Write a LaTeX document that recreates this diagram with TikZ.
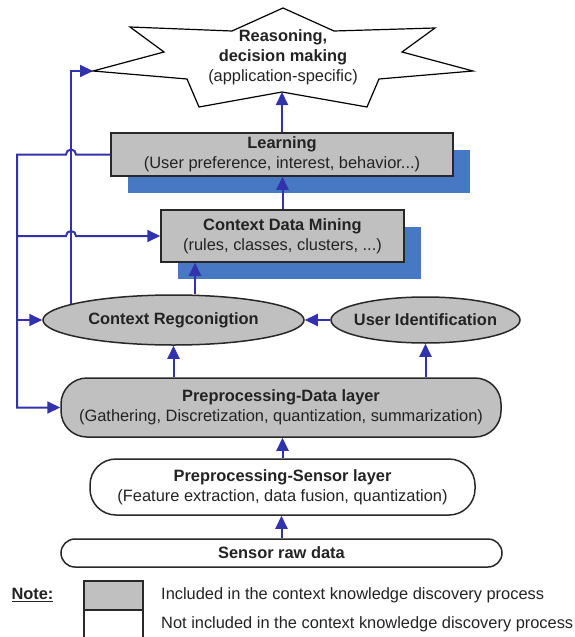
\documentclass[tikz,border=0pt]{standalone}
\usepackage{fontspec}
\setmainfont{Liberation Sans}
\usetikzlibrary{arrows.meta,shapes.geometric,shadows,backgrounds,calc}
\definecolor{arrblue}{RGB}{50,50,170}
\definecolor{boxgray}{RGB}{192,192,192}
\definecolor{sblue}{RGB}{70,120,195}
\definecolor{txt}{RGB}{35,35,35}
\definecolor{edgec}{RGB}{40,40,40}
\tikzset{
  base/.style={draw=edgec, line width=1.5pt, text=txt, align=center, inner sep=0pt,
    font=\fontsize{16.4}{20}\selectfont},
  graybox/.style={base, fill=boxgray, rectangle},
  shadowed/.style={general shadow={shadow xshift=17pt, shadow yshift=-17pt, fill=sblue}},
  grayell/.style={base, fill=boxgray, ellipse, inner xsep=-10pt},
  arr/.style={draw=arrblue, line width=2pt, -{Triangle[length=13pt,width=12pt]}},
  link/.style={draw=arrblue, line width=2pt},
  plain/.style={text=txt, inner sep=0pt, font=\fontsize{16.4}{20}\selectfont},
}
\begin{document}
\begin{tikzpicture}[x=1pt,y=-1pt]
\useasboundingbox (0,0) rectangle (574,637);

% star
\draw[line width=1.2pt, fill=white] (283,8) -- (334,31) -- (435,28) -- (402,52) -- (473,71)
  -- (379,79) -- (367,107) -- (282,92) -- (199,107) -- (187,79) -- (93,71) -- (164,52)
  -- (130,27) -- (232,31) -- cycle;
\coordinate (starleft) at (93,71);
\coordinate (starbot) at (282,92);
\node[plain, align=center] (reason) at (283,57)
  {\textbf{Reasoning,}\\\textbf{decision making}\\(application-specific)};

% boxes
\node[graybox, shadowed, minimum width=342pt, minimum height=43pt] (learn) at (282,154.5)
  {\textbf{Learning}\\(User preference, interest, behavior...)};
\node[graybox, shadowed, minimum width=243pt, minimum height=52pt] (cdm) at (282.5,236)
  {\textbf{Context Data Mining}\\(rules, classes, clusters, ...)};
\node[grayell, minimum width=261pt, minimum height=50pt] (cr) at (173.5,320)
  {\textbf{Context Regconigtion}};
\node[grayell, minimum width=189pt, minimum height=46pt] (ui) at (425.5,320)
  {\textbf{User Identification}};
\node[base, fill=boxgray, rounded corners=26pt, minimum width=440pt, minimum height=59pt] (pd) at (281,407.5)
  {\textbf{Preprocessing-Data layer}\\(Gathering, Discretization, quantization, summarization)};
\node[base, fill=white, rounded corners=26pt, minimum width=385pt, minimum height=56pt] (ps) at (282.5,487)
  {\textbf{Preprocessing-Sensor layer}\\(Feature extraction, data fusion, quantization)};
\node[base, fill=white, rounded corners=14pt, minimum width=441pt, minimum height=28pt] (raw) at (281.5,553)
  {\textbf{Sensor raw data}};

% vertical flow arrows
\draw[arr] (raw.north) -- (raw.north |- ps.south);
\draw[arr] (ps.north) -- (ps.north |- pd.south);
\draw[arr] (cr.south |- pd.north) -- (cr.south);
\draw[arr] (ui.south |- pd.north) -- (ui.south);
\draw[arr] (ui.west) -- (cr.east);
\coordinate (cx) at (195,0);
\draw[arr] (cx |- cr.north) -- (cx |- cdm.south);
\draw[arr] (cdm.north) -- (cdm.north |- learn.south);
\draw[arr] (learn.north) -- (learn.north |- starbot);

% left feedback lines
\coordinate (lx) at (17,0);
\coordinate (vx) at (71,0);
\begin{scope}[on background layer]
\draw[arr] (vx |- cr.center) -- (vx |- starleft) -- (starleft);
\end{scope}
\draw[arr] (learn.west) -- ($(vx |- learn.west)+(5,0)$) arc[start angle=0,end angle=180,radius=5pt]
  -- (lx |- learn.west) -- (lx |- pd.west) -- (pd.west);
\draw[arr] (lx |- cdm.west) -- ($(vx |- cdm.west)+(-5,0)$) arc[start angle=180,end angle=0,radius=5pt]
  -- (cdm.west);
\draw[arr] (lx |- cr.west) -- (cr.west);

% legend
\node[plain, font=\fontsize{16.4}{20}\selectfont\bfseries] (note) at (32.5,595) {\underline{Note:}};
\node[draw=edgec, line width=1.5pt, fill=boxgray, minimum width=59pt, minimum height=29pt, inner sep=0pt] (legin) at (113.5,595.5) {};
\node[draw=edgec, line width=1.5pt, fill=white, minimum width=59pt, minimum height=30pt, inner sep=0pt] (legout) at (113.5,625) {};
\node[plain, anchor=west] (tin) at (161,595) {Included in the context knowledge discovery process};
\node[plain, anchor=west] (tout) at (161,624) {Not included in the context knowledge discovery process};
\end{tikzpicture}
\end{document}
